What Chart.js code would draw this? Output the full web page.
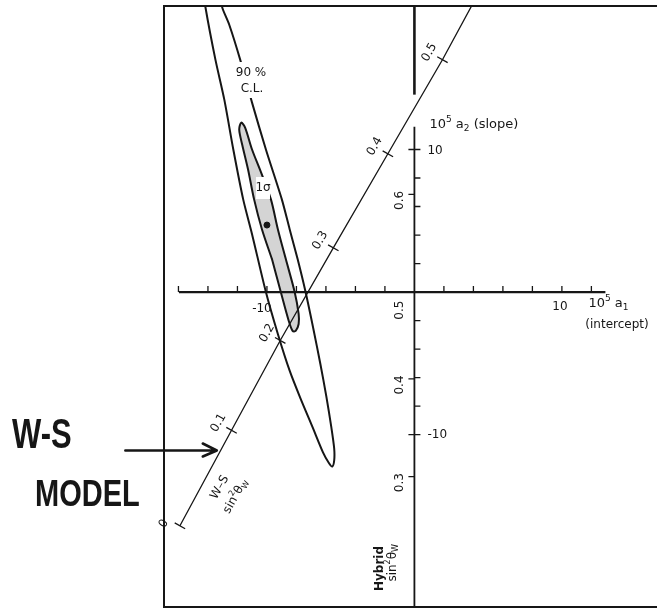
<!DOCTYPE html>
<html>
<head>
<meta charset="utf-8">
<script src="https://cdn.jsdelivr.net/npm/chart.js@4.4.1/dist/chart.umd.min.js"></script>
<style>
  html, body { margin: 0; padding: 0; background: #fff; }
</style>
</head>
<body>
<canvas id="chart" width="657" height="612"></canvas>
<script>
// tick values on the 10^5 a1 (intercept) and 10^5 a2 (slope) axes
const a1Ticks = [-16, -14, -12, -10, -8, -6, -4, -2, 2, 4, 6, 8, 10, 12];
const a2Ticks = [-10, -8, -6, -4, -2, 2, 4, 6, 8, 10];

// W-S sin^2 theta_W scale
const wsValues = [0, 0.1, 0.2, 0.3, 0.4, 0.5];
const wsA1 = [-15.9, -12.4, -9.1, -5.5, -1.8, 1.9];
const wsA2 = [-16.4, -9.7, -3.4, 3.1, 9.7, 16.3];
const wsEnd = { a1: 4.1, a2: 20.5 };

// hybrid sin^2 theta_W marks on the a2 axis
const hybridValues = [0.6, 0.5, 0.4, 0.3];
const hybridA2 = [6.85, -0.85, -6.1, -12.95];

// 90% C.L. contour (open at the top, runs off the frame)
const clA1 = [-14.3, -14.16, -13.49, -12.89, -12.28, -11.61, -11.01, -10.07, -9.26, -8.46, -7.72, -6.9, -6.2, -5.8, -5.57,
              -5.44, -5.44, -5.64, -5.97, -6.38, -6.85, -7.38, -7.92, -8.46, -8.99, -10.07, -11.01, -11.81, -12.55, -13.02, -13.29];
const clA2 = [21.19, 19.93, 16.29, 13.5, 10.0, 6.5, 4.06, 0, -2.94, -5.52, -7.48, -9.5, -11.25, -12.0, -12.24,
              -11.82, -10.98, -9.44, -7.34, -5.03, -2.59, 0, 2.31, 4.41, 6.5, 10.0, 13.29, 16.29, 18.74, 19.93, 21.19];

// 1 sigma contour (closed, shaded)
const sigA1 = [-9.66, -10.34, -10.87, -11.28, -11.68, -11.88, -11.74, -11.48, -11.01, -10.4, -9.73, -9.26, -8.72,
               -8.12, -7.85, -7.85, -8.05, -8.26, -8.52, -9.06, -9.66];
const sigA2 = [2.31, 4.41, 6.5, 8.6, 10.35, 11.4, 11.89, 11.54, 10.0, 8.39, 6.5, 4.41, 2.31,
               0, -1.54, -2.24, -2.73, -2.73, -2.03, 0, 2.31];

const bestFit = { a1: -10.0, a2: 4.7 };

// axis extents
const a1AxisRange = [-15.97, 12.95];
const a2AxisRange = [-22.5, 11.6];
const hybridTopRange = [13.85, 20.5];
const arrowA1 = [-19.6, -13.4];
const arrowA2 = -11.12;

const ink = '#161616';
const FONT = '"DejaVu Sans", sans-serif';

const toPts = (xs, ys) => xs.map((x, i) => ({ x: x, y: ys[i] }));

function richText(ctx, parts, x, y, size, align) {
  const small = Math.round(size * 0.68);
  let w = 0;
  parts.forEach(p => {
    ctx.font = (p[1] ? small : size) + 'px ' + FONT;
    w += ctx.measureText(p[0]).width;
  });
  let cx = align === 'center' ? x - w / 2 : x;
  ctx.textAlign = 'left';
  ctx.textBaseline = 'middle';
  parts.forEach(p => {
    ctx.font = (p[1] ? small : size) + 'px ' + FONT;
    const dy = p[1] === 'sup' ? -size * 0.38 : p[1] === 'sub' ? size * 0.3 : 0;
    ctx.fillText(p[0], cx, y + dy);
    cx += ctx.measureText(p[0]).width;
  });
}

const decorations = {
  id: 'decorations',
  afterDatasetsDraw(chart) {
    const { ctx, chartArea: ca } = chart;
    const X = v => chart.scales.x.getPixelForValue(v);
    const Y = v => chart.scales.y.getPixelForValue(v);
    const W = chart.width;
    ctx.save();
    ctx.strokeStyle = ink;
    ctx.fillStyle = ink;
    ctx.lineCap = 'butt';

    // frame
    ctx.lineWidth = 2;
    ctx.beginPath();
    ctx.moveTo(W, ca.top); ctx.lineTo(ca.left, ca.top); ctx.lineTo(ca.left, ca.bottom); ctx.lineTo(W, ca.bottom);
    ctx.stroke();

    // a1 axis ticks
    const y0 = Y(0), x0 = X(0);
    ctx.lineWidth = 1.3;
    ctx.beginPath();
    a1Ticks.forEach(t => { ctx.moveTo(X(t), y0); ctx.lineTo(X(t), y0 - 6); });
    // a2 axis ticks (right side), +-10 crossed
    a2Ticks.forEach(t => {
      const cross = Math.abs(t) === 10;
      ctx.moveTo(cross ? x0 - 6 : x0, Y(t)); ctx.lineTo(x0 + 6, Y(t));
    });
    // hybrid ticks (left side)
    hybridA2.forEach((v, i) => { if (hybridValues[i] !== 0.5) { ctx.moveTo(x0 - 6, Y(v)); ctx.lineTo(x0, Y(v)); } });
    ctx.stroke();

    // W-S scale ticks
    const p = wsA1.map((a, i) => ({ x: X(a), y: Y(wsA2[i]) }));
    const ang = Math.atan2(p[5].y - p[0].y, p[5].x - p[0].x);
    const ux = Math.cos(ang), uy = Math.sin(ang);
    const nx = -uy, ny = ux; // perpendicular, pointing down-right
    ctx.lineWidth = 1.3;
    ctx.beginPath();
    p.forEach(q => { ctx.moveTo(q.x - nx * 6, q.y - ny * 6); ctx.lineTo(q.x + nx * 6, q.y + ny * 6); });
    ctx.stroke();

    // tick labels
    ctx.textAlign = 'center';
    ctx.textBaseline = 'middle';
    ctx.font = '12px ' + FONT;
    ctx.fillText('-10', X(-10) - 5, y0 + 17);
    ctx.fillText('10', X(10) - 2, y0 + 15);
    ctx.textAlign = 'left';
    ctx.fillText('10', x0 + 13, Y(10) + 1);
    ctx.fillText('-10', x0 + 13, Y(-10));

    // W-S scale labels, rotated along the line
    wsValues.forEach((v, i) => {
      ctx.save();
      const back = v === 0 ? 6 : 0;
      ctx.translate(p[i].x - nx * 15 - ux * back, p[i].y - ny * 15 - uy * back);
      ctx.rotate(ang);
      ctx.textAlign = 'center';
      ctx.textBaseline = 'middle';
      ctx.font = '12px ' + FONT;
      ctx.fillText(v === 0 ? '0' : v.toFixed(1), 0, 0);
      ctx.restore();
    });

    // hybrid labels, rotated vertical
    hybridA2.forEach((v, i) => {
      ctx.save();
      ctx.translate(x0 - 15, Y(v) + 6);
      ctx.rotate(-Math.PI / 2);
      ctx.textAlign = 'center';
      ctx.textBaseline = 'middle';
      ctx.font = '12px ' + FONT;
      ctx.fillText(hybridValues[i].toFixed(1), 0, 0);
      ctx.restore();
    });

    // axis titles
    richText(ctx, [['10'], ['5', 'sup'], [' a'], ['1', 'sub']], X(11.8), y0 + 12, 13, 'left');
    ctx.font = '12px ' + FONT;
    ctx.textAlign = 'center';
    ctx.fillText('(intercept)', 617, y0 + 33);
    richText(ctx, [['10'], ['5', 'sup'], [' a'], ['2', 'sub'], [' (slope)']], x0 + 15, Y(11.6) - 2, 13, 'left');

    // W-S label near the bottom of the diagonal
    const base = { x: p[0].x + ux * 53, y: p[0].y + uy * 53 };
    ctx.save();
    ctx.translate(base.x + nx * 16, base.y + ny * 16);
    ctx.rotate(ang);
    ctx.font = '12px ' + FONT;
    ctx.textAlign = 'center';
    ctx.textBaseline = 'middle';
    ctx.fillText('W\u2013S', 0, 0);
    ctx.restore();
    ctx.save();
    ctx.translate(base.x + nx * 34, base.y + ny * 34);
    ctx.rotate(ang);
    richText(ctx, [['sin'], ['2', 'sup'], ['\u03b8'], ['W', 'sub']], 0, 0, 12, 'center');
    ctx.restore();

    // Hybrid sin^2 label
    ctx.save();
    ctx.translate(x0 - 35, Y(-19.4));
    ctx.rotate(-Math.PI / 2);
    ctx.font = 'bold 12px ' + FONT;
    ctx.textAlign = 'center';
    ctx.textBaseline = 'middle';
    ctx.fillText('Hybrid', 0, 0);
    ctx.restore();
    ctx.save();
    ctx.translate(x0 - 22, Y(-19.0));
    ctx.rotate(-Math.PI / 2);
    richText(ctx, [['sin'], ['2', 'sup'], ['\u03b8'], ['W', 'sub']], 0, 0, 12, 'center');
    ctx.restore();

    // contour labels on white
    ctx.fillStyle = '#fff';
    ctx.fillRect(234, 62, 34, 36);
    ctx.fillRect(256, 177, 14, 22);
    ctx.fillStyle = ink;
    ctx.font = '12px ' + FONT;
    ctx.textAlign = 'center';
    ctx.textBaseline = 'middle';
    ctx.fillText('90 %', 251, 73);
    ctx.fillText('C.L.', 252, 89);
    ctx.fillText('1\u03c3', 263, 188);

    // hand-drawn annotation
    const ay = Y(arrowA2), ax1 = X(arrowA1[0]), ax2 = X(arrowA1[1]);
    ctx.lineWidth = 2.6;
    ctx.lineCap = 'round';
    ctx.lineJoin = 'round';
    ctx.beginPath();
    ctx.moveTo(ax1, ay); ctx.lineTo(ax2, ay);
    ctx.moveTo(ax2 - 14, ay - 7); ctx.lineTo(ax2, ay); ctx.lineTo(ax2 - 14, ay + 6);
    ctx.stroke();

    ctx.save();
    ctx.textAlign = 'left';
    ctx.textBaseline = 'alphabetic';
    ctx.translate(12, 448);
    ctx.scale(1, 1.35);
    ctx.font = 'bold 31px "Liberation Sans", sans-serif';
    ctx.fillText('W-S', 0, 0);
    ctx.restore();
    ctx.save();
    ctx.textAlign = 'left';
    ctx.textBaseline = 'alphabetic';
    ctx.translate(35, 506);
    ctx.scale(1, 1.3);
    ctx.font = 'bold 29px "Liberation Sans", sans-serif';
    ctx.fillText('MODEL', 0, 0);
    ctx.restore();

    ctx.restore();
  }
};

const line = (data, width, extra) => Object.assign({
  data: data, showLine: true, borderColor: ink, borderWidth: width,
  pointRadius: 0, fill: false, tension: 0
}, extra || {});

new Chart(document.getElementById('chart'), {
  type: 'scatter',
  data: {
    datasets: [
      line([{ x: a1AxisRange[0], y: 0 }, { x: a1AxisRange[1], y: 0 }], 2.2),
      line([{ x: 0, y: a2AxisRange[0] }, { x: 0, y: a2AxisRange[1] }], 1.8),
      line([{ x: 0, y: hybridTopRange[0] }, { x: 0, y: hybridTopRange[1] }], 2.6),
      { data: [{ x: bestFit.a1, y: bestFit.a2 }], pointRadius: 3, backgroundColor: ink, borderColor: ink },
      line(toPts(wsA1, wsA2).concat([{ x: wsEnd.a1, y: wsEnd.a2 }]), 1.3),
      line(toPts(clA1, clA2), 2, { tension: 0.25 }),
      line(toPts(sigA1, sigA2), 2, { tension: 0.3, fill: 'shape', backgroundColor: '#d4d4d4' })
    ]
  },
  options: {
    responsive: false,
    animation: false,
    events: [],
    layout: { padding: { left: 164, top: 6, right: 0, bottom: 3 } },
    scales: {
      x: { type: 'linear', min: -16.98, max: 16.11, display: false },
      y: { type: 'linear', min: -22.1, max: 20.07, display: false }
    },
    plugins: { legend: { display: false }, tooltip: { enabled: false } }
  },
  plugins: [decorations]
});
</script>
</body>
</html>
